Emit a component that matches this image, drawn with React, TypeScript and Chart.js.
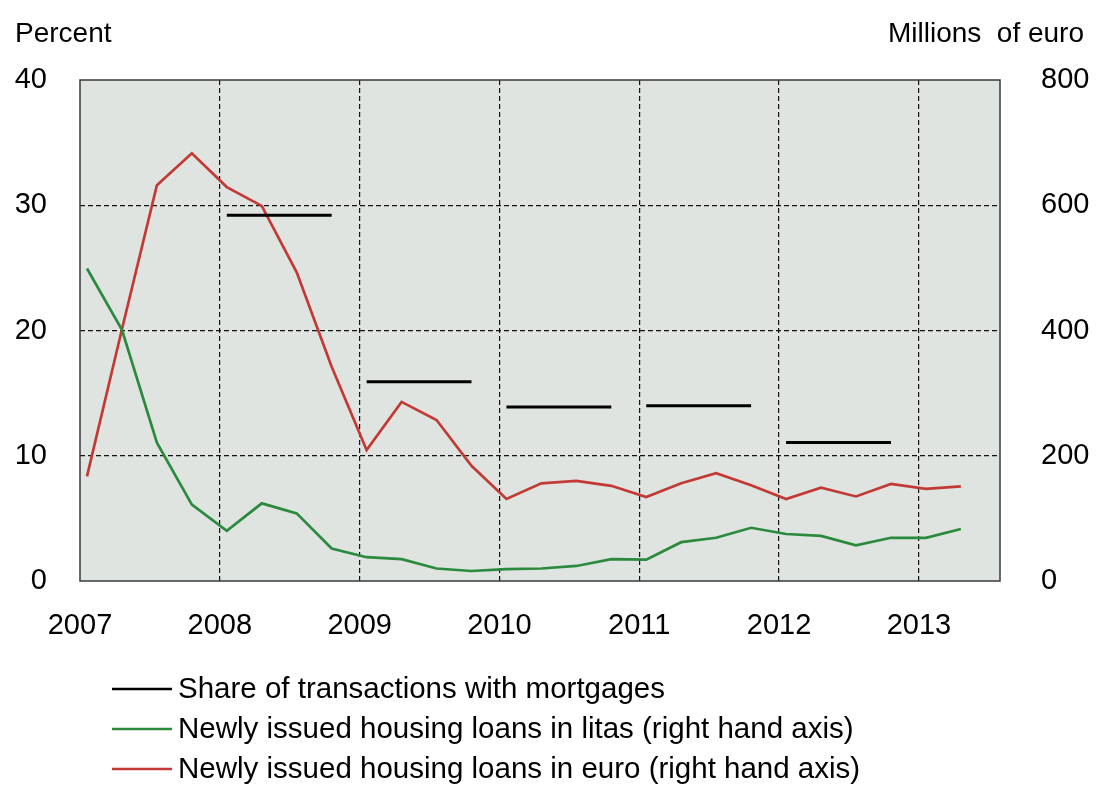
import React, { useEffect, useRef } from 'react';
import { Chart, registerables } from 'chart.js';

Chart.register(...registerables);

// ---- Data ----
const quarters = [
  '2007Q1', '2007Q2', '2007Q3', '2007Q4',
  '2008Q1', '2008Q2', '2008Q3', '2008Q4',
  '2009Q1', '2009Q2', '2009Q3', '2009Q4',
  '2010Q1', '2010Q2', '2010Q3', '2010Q4',
  '2011Q1', '2011Q2', '2011Q3', '2011Q4',
  '2012Q1', '2012Q2', '2012Q3', '2012Q4',
  '2013Q1', '2013Q2',
];
// Newly issued housing loans in litas, millions of euro (right axis)
const litasLoans = [
  499, 401, 221, 122,
  80, 124, 108, 52,
  38, 35, 20, 16,
  19, 20, 24, 35,
  34, 62, 69, 85,
  75, 72, 57, 69,
  69, 83,
];
// Newly issued housing loans in euro, millions of euro (right axis)
const euroLoans = [
  167, 402, 632, 683,
  629, 599, 493, 342,
  209, 286, 257, 184,
  131, 156, 160, 152,
  134, 156, 172, 153,
  131, 149, 135, 155,
  147, 151,
];
// Share of transactions with mortgages, percent (left axis), annual
const shareYears = [2008, 2009, 2010, 2011, 2012];
const shareValues = [29.2, 15.9, 13.9, 14.0, 11.05];

const yearTicks = [2007, 2008, 2009, 2010, 2011, 2012, 2013];
const leftTicks = [0, 10, 20, 30, 40];
const rightTicks = [0, 200, 400, 600, 800];

const legendLabels = [
  'Share of transactions with mortgages',
  'Newly issued housing loans in litas (right hand axis)',
  'Newly issued housing loans in euro (right hand axis)',
];
const leftTitle = 'Percent';
const rightTitle = 'Millions  of euro';

const COLORS = {
  share: '#000000',
  litas: '#2b8a3e',
  euro: '#c23a36',
};
const FONT = "'Liberation Sans', Arial, sans-serif";

const quarterX = (q: string) => {
  const year = parseInt(q.slice(0, 4), 10);
  const qi = parseInt(q.slice(5), 10) - 1;
  return year + 0.05 + 0.25 * qi;
};

export default function App() {
  const canvasRef = useRef<HTMLCanvasElement | null>(null);

  useEffect(() => {
    document.body.style.margin = '0';
    const canvas = canvasRef.current;
    if (!canvas) return;

    const shareData: { x: number; y: number | null }[] = [];
    shareYears.forEach((yr, i) => {
      shareData.push({ x: yr + 0.05, y: shareValues[i] });
      shareData.push({ x: yr + 0.8, y: shareValues[i] });
      shareData.push({ x: yr + 0.9, y: null });
    });

    const frameAndLegend = {
      id: 'frameAndLegend',
      beforeDraw(chart: any) {
        const { ctx, chartArea } = chart;
        ctx.save();
        ctx.fillStyle = '#dfe4e0';
        ctx.fillRect(chartArea.left, chartArea.top, chartArea.right - chartArea.left, chartArea.bottom - chartArea.top);
        ctx.restore();
      },
      beforeDatasetsDraw(chart: any) {
        const { ctx, chartArea } = chart;
        ctx.save();
        ctx.strokeStyle = '#3a3a3a';
        ctx.lineWidth = 1.5;
        ctx.strokeRect(chartArea.left, chartArea.top, chartArea.right - chartArea.left, chartArea.bottom - chartArea.top);
        ctx.restore();
      },
      afterDraw(chart: any) {
        const { ctx } = chart;
        ctx.save();
        // axis titles
        ctx.fillStyle = '#000';
        ctx.font = `28px ${FONT}`;
        ctx.textBaseline = 'alphabetic';
        ctx.textAlign = 'left';
        ctx.fillText(leftTitle, 15, 42);
        ctx.textAlign = 'right';
        ctx.fillText(rightTitle, 1084, 42);
        // legend
        ctx.font = `29.5px ${FONT}`;
        ctx.textAlign = 'left';
        ctx.textBaseline = 'middle';
        const colors = [COLORS.share, COLORS.litas, COLORS.euro];
        legendLabels.forEach((lbl, i) => {
          const y = 689 + 40 * i;
          ctx.strokeStyle = colors[i];
          ctx.lineWidth = 2.5;
          ctx.beginPath();
          ctx.moveTo(112, y);
          ctx.lineTo(172, y);
          ctx.stroke();
          ctx.fillStyle = '#000';
          ctx.fillText(lbl, 178, y + 1);
        });
        ctx.restore();
      },
    };

    const chart = new Chart(canvas, {
      type: 'line',
      data: {
        datasets: [
          {
            label: legendLabels[0],
            data: shareData as any,
            borderColor: COLORS.share,
            borderWidth: 3,
            pointRadius: 0,
            yAxisID: 'y',
            spanGaps: false,
            tension: 0,
          },
          {
            label: legendLabels[1],
            data: quarters.map((q, i) => ({ x: quarterX(q), y: litasLoans[i] })) as any,
            borderColor: COLORS.litas,
            borderWidth: 2.7,
            pointRadius: 0,
            yAxisID: 'y1',
            tension: 0,
          },
          {
            label: legendLabels[2],
            data: quarters.map((q, i) => ({ x: quarterX(q), y: euroLoans[i] })) as any,
            borderColor: COLORS.euro,
            borderWidth: 2.7,
            pointRadius: 0,
            yAxisID: 'y1',
            tension: 0,
          },
        ],
      },
      options: {
        animation: false,
        responsive: false,
        maintainAspectRatio: false,
        layout: { padding: { top: 80, bottom: 152, left: 0, right: 0 } },
        plugins: {
          legend: { display: false },
          tooltip: { enabled: false },
          title: { display: false },
        },
        scales: {
          x: {
            type: 'linear',
            min: yearTicks[0],
            max: 2013.58,
            afterFit: (s: any) => { s.height = 60; },
            afterBuildTicks: (s: any) => { s.ticks = yearTicks.map((v) => ({ value: v })); },
            ticks: {
              stepSize: 1,
              includeBounds: false,
              padding: 28,
              color: '#000',
              font: { family: FONT, size: 29 },
              callback: (v: any) => String(v),
              maxRotation: 0,
              autoSkip: false,
            },
            grid: {
              drawTicks: false,
              color: (c: any) => (c.tick && c.tick.value === yearTicks[0] ? 'rgba(0,0,0,0)' : '#111'),
              lineWidth: 1.2,
            },
            border: { display: false, dash: [5, 3] },
          },
          y: {
            type: 'linear',
            position: 'left',
            min: 0,
            max: 40,
            afterFit: (s: any) => { s.width = 80; },
            afterBuildTicks: (s: any) => { s.ticks = leftTicks.map((v) => ({ value: v })); },
            ticks: {
              stepSize: 10,
              padding: 33,
              color: '#000',
              font: { family: FONT, size: 29 },
              callback: (v: any) => String(v),
            },
            grid: {
              drawTicks: false,
              color: (c: any) => (c.tick && (c.tick.value === 0 || c.tick.value === 40) ? 'rgba(0,0,0,0)' : '#111'),
              lineWidth: 1.2,
            },
            border: { display: false, dash: [5, 3] },
          },
          y1: {
            type: 'linear',
            position: 'right',
            min: 0,
            max: 800,
            afterFit: (s: any) => { s.width = 105; },
            afterBuildTicks: (s: any) => { s.ticks = rightTicks.map((v) => ({ value: v })); },
            ticks: {
              stepSize: 200,
              padding: 41,
              color: '#000',
              font: { family: FONT, size: 29 },
              callback: (v: any) => String(v),
            },
            grid: { display: false, drawTicks: false },
            border: { display: false },
          },
        },
      },
      plugins: [frameAndLegend],
    });

    return () => {
      chart.destroy();
    };
  }, []);

  return (
    <div style={{ width: 1105, height: 793, background: '#fff' }}>
      <canvas ref={canvasRef} width={1105} height={793} style={{ display: 'block', width: 1105, height: 793 }} />
    </div>
  );
}
